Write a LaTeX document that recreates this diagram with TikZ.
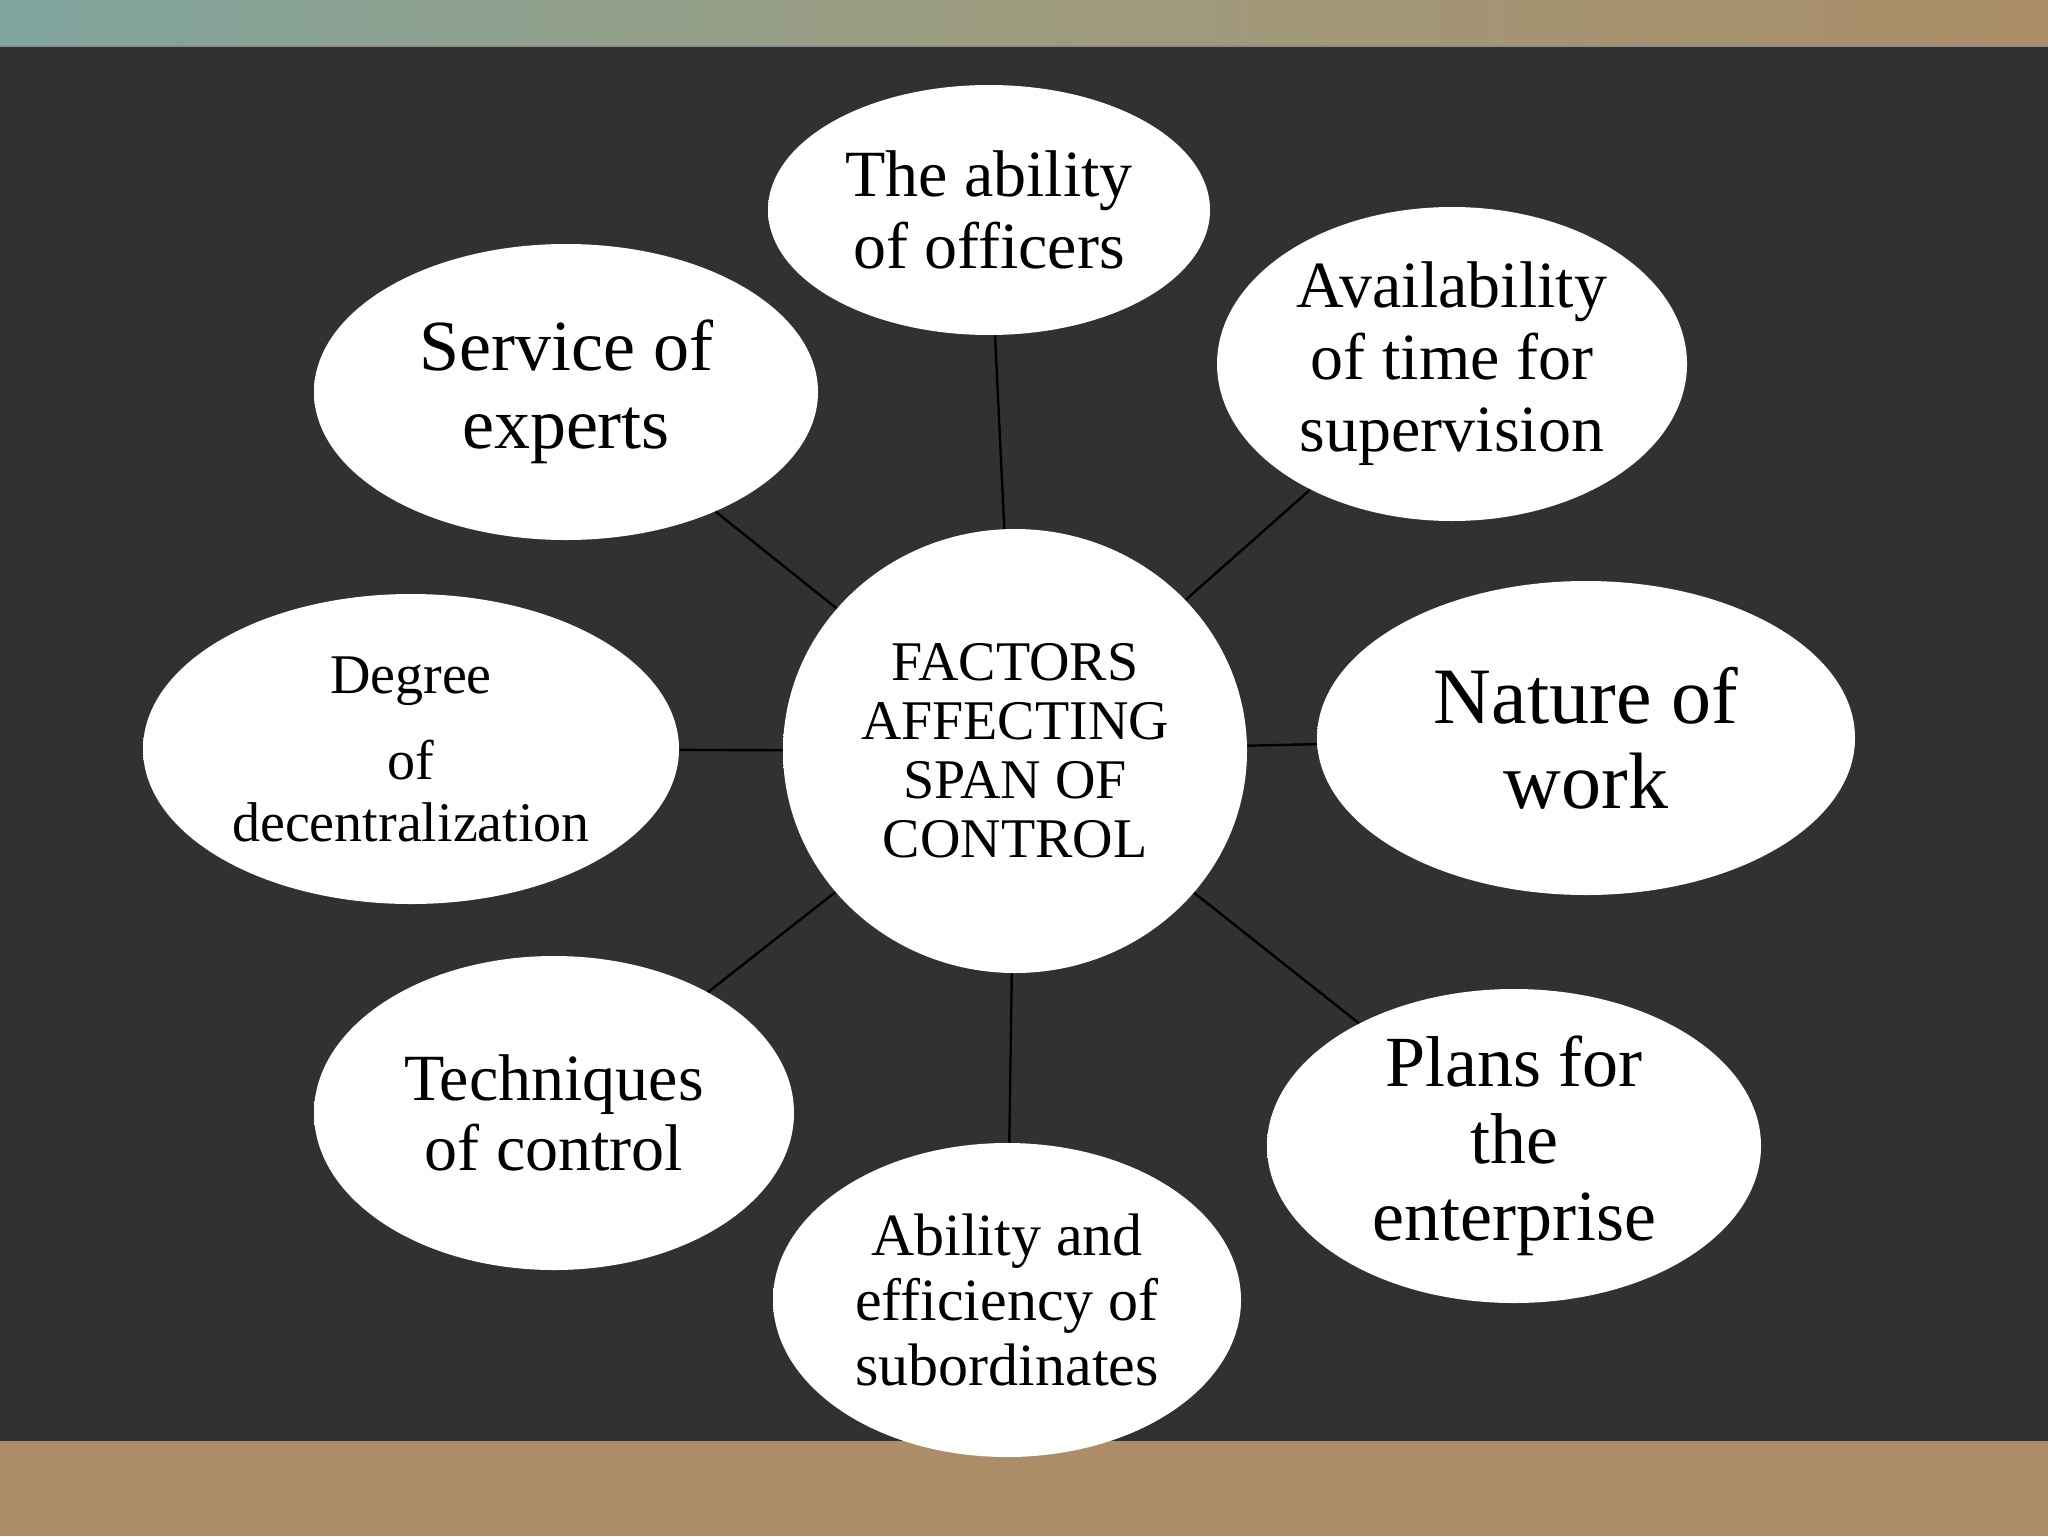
\documentclass[tikz,border=0pt]{standalone}
\usepackage{fontspec}
\setmainfont{Liberation Serif}
\usetikzlibrary{shapes.geometric}
\definecolor{board}{HTML}{333030}
\definecolor{tealband}{HTML}{7FA59E}
\definecolor{midband}{HTML}{9E9C7E}
\definecolor{tanband}{HTML}{AA8C66}
\definecolor{floorband}{HTML}{AD8C68}
\pgfdeclareradialshading{bubble}{\pgfpoint{-3bp}{4bp}}{color(0bp)=(white); color(36bp)=(white); color(44bp)=(black!6); color(49bp)=(black!20); color(53bp)=(black!38)}
\begin{document}
\begin{tikzpicture}[x=0.5pt,y=-0.5pt,
  bubble/.style={ellipse, shading=bubble, inner sep=0pt, align=center, text=black},
  link/.style={line width=1.2pt, black}]
\useasboundingbox (0,0) rectangle (2048,1536);
\fill[board] (0,0) rectangle (2048,1536);
\shade[left color=tealband, right color=tanband, middle color=midband] (0,0) rectangle (2048,47);
\fill[floorband] (0,1441) rectangle (2048,1536);
\draw[black!45, line width=1pt] (0,46) -- (2048,46);

\node[bubble, minimum width=232pt, minimum height=222pt,
  font=\fontsize{28}{29.5}\selectfont] (c) at (1015,751)
  {FACTORS\\AFFECTING\\SPAN OF\\CONTROL};
\node[bubble, minimum width=221pt, minimum height=125pt,
  font=\fontsize{33}{36}\selectfont] (top) at (989,210)
  {The ability\\of officers};
\node[bubble, minimum width=235pt, minimum height=157pt,
  font=\fontsize{33}{36}\selectfont] (avail) at (1452,364)
  {Availability\\of time for\\supervision};
\node[bubble, minimum width=269pt, minimum height=157pt,
  font=\fontsize{40}{42.5}\selectfont] (nature) at (1586,738)
  {Nature of\\work};
\node[bubble, minimum width=247pt, minimum height=157pt,
  font=\fontsize{36}{38.5}\selectfont] (plans) at (1514,1146)
  {Plans for\\the\\enterprise};
\node[bubble, minimum width=234pt, minimum height=157pt,
  font=\fontsize{30}{32.5}\selectfont] (abil) at (1007,1300)
  {Ability and\\efficiency of\\subordinates};
\node[bubble, minimum width=240pt, minimum height=157pt,
  font=\fontsize{33}{35}\selectfont] (tech) at (554,1113)
  {Techniques\\of control};
\node[bubble, minimum width=268pt, minimum height=155pt,
  font=\fontsize{28}{31}\selectfont] (degree) at (411,749)
  {Degree\\[12pt] of\\decentralization};
\node[bubble, minimum width=252pt, minimum height=148pt,
  font=\fontsize{36}{39}\selectfont] (service) at (566,392)
  {Service of\\experts};

\draw[link] (c) -- (top);
\draw[link] (c) -- (avail);
\draw[link] (c) -- (nature);
\draw[link] (c) -- (plans);
\draw[link] (c) -- (abil);
\draw[link] (c) -- (tech);
\draw[link] (c) -- (degree);
\draw[link] (c) -- (service);
\end{tikzpicture}
\end{document}
